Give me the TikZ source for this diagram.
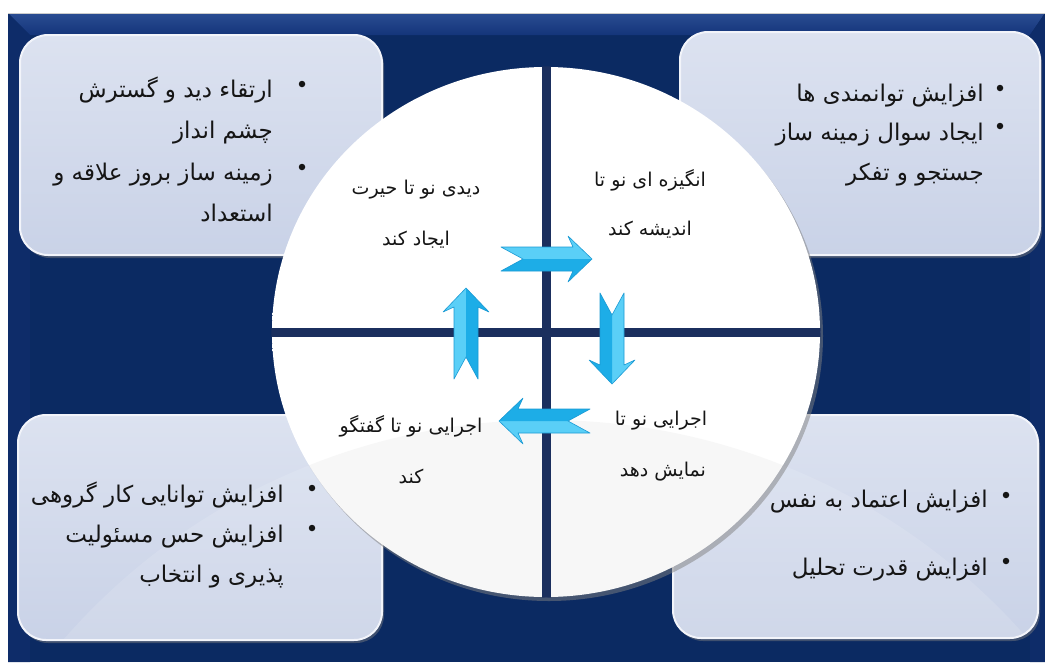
\documentclass[tikz,border=0pt]{standalone}
\usepackage{fontspec}
\TeXXeTstate=1
\newfontfamily\fa[Script=Arabic]{DejaVu Sans}
\usetikzlibrary{shadows,shapes.geometric}

\definecolor{navy}{HTML}{0B2A62}
\definecolor{navytop}{HTML}{2A4C92}
\definecolor{navymid}{HTML}{14357A}
\definecolor{navyside}{HTML}{0E2C69}
\definecolor{bar}{HTML}{1B2F5E}
\definecolor{boxtop}{HTML}{DCE2F0}
\definecolor{boxbot}{HTML}{C9D2E7}
\definecolor{boxrim}{HTML}{F2F4FA}
\definecolor{cyanlite}{HTML}{5ACFF7}
\definecolor{cyandark}{HTML}{1DADE7}
\definecolor{cyanedge}{HTML}{1A9AD4}
\definecolor{txt}{HTML}{151515}

\pgfdeclareradialshading{discshade}{\pgfpoint{0bp}{0bp}}{%
  color(0bp)=(white); color(30bp)=(white); color(42bp)=(white!96!gray);
  color(50bp)=(white!88!gray)}

\tikzset{
  infobox/.style={rectangle, rounded corners=28pt, top color=boxtop,
    bottom color=boxbot, draw=boxrim, line width=2pt, inner sep=0pt,
    drop shadow={opacity=0.45, shadow xshift=2pt, shadow yshift=-3pt}},
  boxline/.style={font=\fa\fontsize{23}{27}\selectfont, text=txt,
    inner sep=0pt, anchor=base east},
  discline/.style={font=\fa\fontsize{19}{22}\selectfont, text=txt,
    inner sep=0pt, anchor=center},
  dot/.style={circle, fill=txt, minimum size=6.5pt, inner sep=0pt},
  crossbar/.style={bar, line width=9pt},
  % block arrow with a notched tail, pointing along +x, centred at the origin
  flowarrow/.pic={
    \fill[cyanlite] (-45,-12) -- (27,-12) -- (22,-23) -- (46,0) -- (-23,0) -- cycle;
    \fill[cyandark] (-23,0) -- (46,0) -- (22,23) -- (27,12) -- (-45,12) -- cycle;
    \draw[cyanedge, line width=0.6pt, line join=round]
      (-45,-12) -- (27,-12) -- (22,-23) -- (46,0) -- (22,23) -- (27,12)
      -- (-45,12) -- (-23,0) -- cycle;
  }
}

\begin{document}
\begin{tikzpicture}[x=1pt,y=-1pt]
\useasboundingbox (0,0) rectangle (1045,662);
\fill[white] (0,0) rectangle (1045,662);

% framed dark panel with a bevelled top edge
\fill[navy] (8,13) rectangle (1045,662);
\shade[top color=navytop, bottom color=navymid]
  (8,13) -- (1045,13) -- (1030,35) -- (30,35) -- cycle;
\fill[navyside] (8,13) -- (30,35) -- (30,662) -- (8,662) -- cycle;
\fill[navyside] (1045,13) -- (1030,35) -- (1030,662) -- (1045,662) -- cycle;
\draw[gray!40, line width=1pt] (8,13) -- (1045,13);

% four information panels
\node[infobox, minimum width=362pt, minimum height=220pt] (boxTL) at (201,145) {};
\node[infobox, minimum width=360pt, minimum height=223pt] (boxTR) at (860,143.5) {};
\node[infobox, minimum width=364pt, minimum height=225pt] (boxBL) at (200,527.5) {};
\node[infobox, minimum width=365pt, minimum height=223pt] (boxBR) at (855.5,526.5) {};

% soft glossy sweep across the lower panels
\begin{scope}
  \clip[rounded corners=28pt] (19,416) rectangle (381,639);
  \fill[white, opacity=0.12] (546,1060) circle (640);
\end{scope}
\begin{scope}
  \clip[rounded corners=28pt] (674,416) rectangle (1037,637);
  \fill[white, opacity=0.12] (546,1060) circle (640);
\end{scope}

% central disc
\node[ellipse, minimum width=548pt, minimum height=530pt, inner sep=0pt,
  outer sep=0pt, shading=discshade,
  drop shadow={opacity=0.5, shadow xshift=3pt, shadow yshift=-4pt}] (disc) at (546,332) {};
\coordinate (discW) at ([xshift=-6pt]disc.west);
\coordinate (discE) at ([xshift=6pt]disc.east);
\coordinate (discN) at ([yshift=6pt]disc.north);
\coordinate (discS) at ([yshift=-6pt]disc.south);
\begin{scope}
  \clip (546,332) ellipse (274.6 and 265.6);
  \fill[gray, opacity=0.06] (546,1060) circle (640);
  \draw[crossbar] (discN) -- (discS);
  \draw[crossbar] (discW) -- (discE);
\end{scope}

% cycle arrows
\pic at (546,259) {flowarrow};
\pic[rotate=-90] at (612,338) {flowarrow};
\pic[rotate=180] at (545,421) {flowarrow};
\pic[rotate=90] at (466,334) {flowarrow};

% quadrant captions
\node[discline] (q1a) at (416,190) {\beginR دیدی نو تا حیرت\endR};
\node[discline] (q1b) at (416,240) {\beginR ایجاد کند\endR};
\node[discline] (q2a) at (650,180) {\beginR انگیزه ای نو تا\endR};
\node[discline] (q2b) at (650,230) {\beginR اندیشه کند\endR};
\node[discline] (q3a) at (661,421) {\beginR اجرایی نو تا\endR};
\node[discline] (q3b) at (663,472) {\beginR نمایش دهد\endR};
\node[discline] (q4a) at (411,426) {\beginR اجرایی نو تا گفتگو\endR};
\node[discline] (q4b) at (411,476) {\beginR کند\endR};

% top-left panel
\node[dot] (tlb1) at (302,84) {};
\node[dot] (tlb2) at (302,167) {};
\node[boxline] (tl1) at (273,97) {\beginR ارتقاء دید و گسترش\endR};
\node[boxline] (tl2) at (273,138) {\beginR چشم انداز\endR};
\node[boxline] (tl3) at (273,180) {\beginR زمینه ساز بروز علاقه و\endR};
\node[boxline] (tl4) at (273,221) {\beginR استعداد\endR};

% top-right panel
\node[dot] (trb1) at (1000,88) {};
\node[dot] (trb2) at (1000,126) {};
\node[boxline] (tr1) at (984,101) {\beginR افزایش توانمندی ها\endR};
\node[boxline] (tr2) at (984,140) {\beginR ایجاد سوال زمینه ساز\endR};
\node[boxline] (tr3) at (984,180) {\beginR جستجو و تفکر\endR};

% bottom-left panel
\node[dot] (blb1) at (312,488) {};
\node[dot] (blb2) at (312,528) {};
\node[boxline] (bl1) at (284,502) {\beginR افزایش توانایی کار گروهی\endR};
\node[boxline] (bl2) at (284,542) {\beginR افزایش حس مسئولیت\endR};
\node[boxline] (bl3) at (284,582) {\beginR پذیری و انتخاب\endR};

% bottom-right panel
\node[dot] (brb1) at (1006,495) {};
\node[dot] (brb2) at (1006,561) {};
\node[boxline] (br1) at (988,507) {\beginR افزایش اعتماد به نفس\endR};
\node[boxline] (br2) at (988,575) {\beginR افزایش قدرت تحلیل\endR};
\end{tikzpicture}
\end{document}
